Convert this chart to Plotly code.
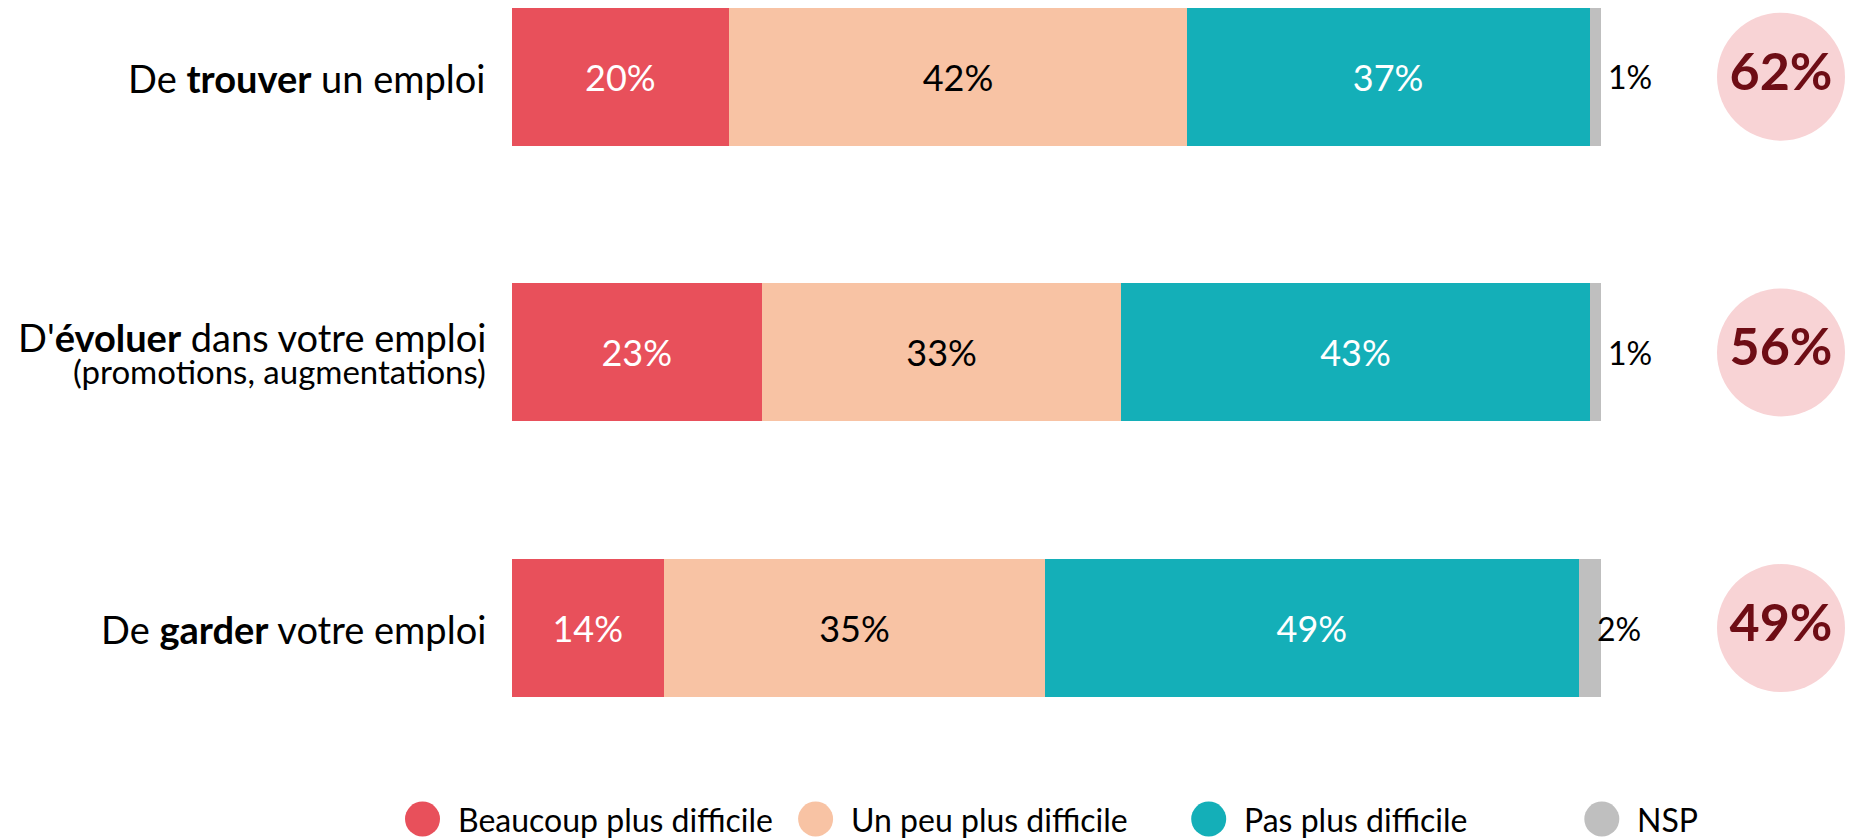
import plotly.graph_objects as go

# ---------------- data ----------------
categories = ["De trouver un emploi", "D'évoluer dans votre emploi", "De garder votre emploi"]
label_main = ["De <b>trouver</b> un emploi", "D'<b>évoluer</b> dans votre emploi", "De <b>garder</b> votre emploi"]
label_sub = ["", "(promotions, augmentations)", ""]
series_names = ["Beaucoup plus difficile", "Un peu plus difficile", "Pas plus difficile", "NSP"]
beaucoup = [20, 23, 14]
un_peu = [42, 33, 35]
pas_plus = [37, 43, 49]
nsp = [1, 1, 2]

# ---------------- styles ----------------
colors = ["#E8505B", "#F8C3A4", "#14AFB8", "#BFBFBF"]
text_colors = ["#FFFFFF", "#000000", "#FFFFFF", "#000000"]
circle_fill = "#F8D3D5"
circle_text = "#6E0D15"
FONT = "Lato"

W, H = 1851, 840
X0_PX, PX_PER_PCT = 511.5, 10.89      # x pixel of 0 %, pixels per %
Y0_PX, PX_PER_ROW = 76.7, 275.7       # y pixel of first row, pixels per row


def xd(px):
    return (px - X0_PX) / PX_PER_PCT


def yd(py):
    return (py - Y0_PX) / PX_PER_ROW


yvals = list(range(len(categories)))
series = [beaucoup, un_peu, pas_plus, nsp]

fig = go.Figure()
for k, (name, vals) in enumerate(zip(series_names, series)):
    fig.add_trace(go.Bar(
        x=vals, y=yvals, orientation="h", name=name,
        marker=dict(color=colors[k], line=dict(width=0)),
        text=[f"{v}%" for v in vals] if k < 3 else None,
        textposition="inside" if k < 3 else "none",
        insidetextanchor="middle", textangle=0,
        textfont=dict(family=FONT, size=36, color=text_colors[k], weight=400),
        showlegend=False, hoverinfo="skip",
    ))

# NSP labels, placed just after the start of the NSP segment
annotations = []
for i in yvals:
    start = beaucoup[i] + un_peu[i] + pas_plus[i]
    annotations.append(dict(
        x=start, y=i, xref="x", yref="y", text=f"{nsp[i]}%", showarrow=False,
        xanchor="left", yanchor="middle", xshift=16,
        font=dict(family=FONT, size=32, color="#000000"),
    ))

# category labels
for i in yvals:
    if label_sub[i]:
        annotations.append(dict(
            x=0, y=i, xref="x", yref="y", text=label_main[i], showarrow=False,
            xanchor="right", yanchor="middle", xshift=-24, yshift=15,
            font=dict(family=FONT, size=38, color="#000000"),
        ))
        annotations.append(dict(
            x=0, y=i, xref="x", yref="y", text=label_sub[i], showarrow=False,
            xanchor="right", yanchor="middle", xshift=-24, yshift=-19,
            font=dict(family=FONT, size=33, color="#000000"),
        ))
    else:
        annotations.append(dict(
            x=0, y=i, xref="x", yref="y", text=label_main[i], showarrow=False,
            xanchor="right", yanchor="middle", xshift=-24, yshift=-1,
            font=dict(family=FONT, size=38, color="#000000"),
        ))

# total "plus difficile" circles
totals = [b + u for b, u in zip(beaucoup, un_peu)]
fig.add_trace(go.Scatter(
    x=[xd(1781)] * len(yvals), y=yvals, mode="markers+text",
    marker=dict(size=128, color=circle_fill, line=dict(width=0)),
    text=[f"<b>{t}%</b>" for t in totals], textposition="middle center",
    textfont=dict(family=FONT, size=52, color=circle_text),
    showlegend=False, hoverinfo="skip", cliponaxis=False,
))

# custom legend (large circles)
leg_x = [xd(422.5 + 393.1 * k) for k in range(len(series_names))]
leg_y = [yd(819)] * len(series_names)
fig.add_trace(go.Scatter(
    x=leg_x, y=leg_y, mode="markers",
    marker=dict(size=35, color=colors, line=dict(width=0)),
    showlegend=False, hoverinfo="skip", cliponaxis=False,
))
for k, name in enumerate(series_names):
    annotations.append(dict(
        x=leg_x[k], y=leg_y[k], xref="x", yref="y", text=name, showarrow=False,
        xanchor="left", yanchor="middle", xshift=33,
        font=dict(family=FONT, size=32, color="#000000"),
    ))

fig.update_layout(
    width=W, height=H,
    margin=dict(l=0, r=0, t=0, b=0, pad=0),
    barmode="stack", bargap=0.5,
    paper_bgcolor="#FFFFFF", plot_bgcolor="#FFFFFF",
    xaxis=dict(range=[xd(0), xd(W)], visible=False, fixedrange=True),
    yaxis=dict(range=[yd(H), yd(0)], visible=False, fixedrange=True),
    annotations=annotations,
    hovermode=False,
    font=dict(family=FONT),
)

fig.write_html(
    "out.html",
    config={"displayModeBar": False},
    post_script="document.body.style.margin='0';document.body.style.overflow='hidden';",
)
